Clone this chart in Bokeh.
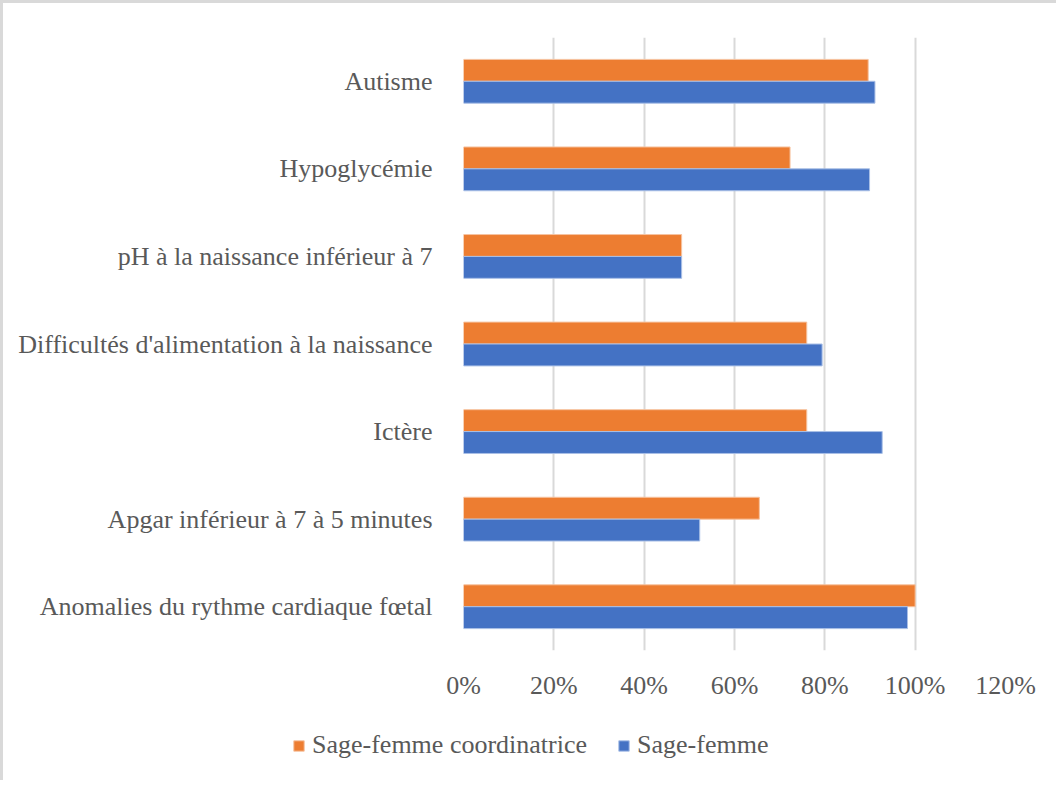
from bokeh.plotting import figure
from bokeh.models import (FactorRange, Range1d, FixedTicker, PrintfTickFormatter,
                          Legend, LegendItem, ColumnDataSource)
from bokeh.transform import dodge
from bokeh.embed import file_html
from bokeh.resources import INLINE

categories = [
    "Anomalies du rythme cardiaque fœtal",
    "Apgar inférieur à 7 à 5 minutes",
    "Ictère",
    "Difficultés d'alimentation à la naissance",
    "pH à la naissance inférieur à 7",
    "Hypoglycémie",
    "Autisme",
]
sage_femme_coordinatrice = [100, 65.5, 76, 76, 48.3, 72.3, 89.6]
sage_femme = [98.3, 52.3, 92.7, 79.4, 48.3, 89.9, 91.1]
x_ticks = [0, 20, 40, 60, 80, 100, 120]
series_names = ["Sage-femme coordinatrice", "Sage-femme"]
ORANGE = "#ED7D31"
BLUE = "#4472C4"
TEXT = "#595959"
FONT = "Liberation Serif"
FONT_SIZE = "26px"
BORDER = "3px solid #d9d9d9"

src = ColumnDataSource(dict(cat=categories, coord=sage_femme_coordinatrice, sf=sage_femme))


def add_bars(fig):
    a = fig.hbar(y=dodge("cat", 0.125, range=fig.y_range), left=0, right="coord", height=0.25,
                 source=src, fill_color=ORANGE, line_color="#f6c3a0", line_width=1)
    b = fig.hbar(y=dodge("cat", -0.125, range=fig.y_range), left=0, right="sf", height=0.25,
                 source=src, fill_color=BLUE, line_color="#a9bfe6", line_width=1)
    return a, b


# main chart
p = figure(
    y_range=FactorRange(*categories),
    x_range=Range1d(0, 120),
    frame_width=542, frame_height=613,
    min_border_left=460, min_border_right=51,
    min_border_top=34, min_border_bottom=60,
    output_backend="svg", toolbar_location=None,
)
p.styles = {"border-top": BORDER, "border-left": BORDER}
p.outline_line_color = None
add_bars(p)

p.xgrid.ticker = FixedTicker(ticks=x_ticks)
p.xgrid.grid_line_color = "#d9d9d9"
p.xgrid.grid_line_width = 2
p.ygrid.grid_line_color = None

p.xaxis.ticker = FixedTicker(ticks=x_ticks)
p.xaxis.formatter = PrintfTickFormatter(format="%d%%")
for ax in (p.xaxis[0], p.yaxis[0]):
    ax.axis_line_color = None
    ax.major_tick_line_color = None
    ax.minor_tick_line_color = None
    ax.major_label_text_font = FONT
    ax.major_label_text_font_size = FONT_SIZE
    ax.major_label_text_color = TEXT
p.xaxis.major_label_standoff = 14
p.yaxis.major_label_standoff = 25

# legend strip: a separate root so its frame spans the full width
# (its bars lie outside its visible x range; only the legend shows)
lg = figure(
    y_range=FactorRange(*categories),
    x_range=Range1d(-2, -1),
    width=1053, height=70, min_border=0,
    x_axis_location=None, y_axis_location=None,
    output_backend="svg", toolbar_location=None,
)
lg.styles = {"border-left": BORDER}
lg.outline_line_color = None
lg.grid.visible = False
l1, l2 = add_bars(lg)

legend = Legend(
    items=[LegendItem(label=series_names[0], renderers=[l1]),
           LegendItem(label=series_names[1], renderers=[l2])],
    location=(289, 20), orientation="horizontal",
    padding=0, margin=0, spacing=30,
    glyph_width=13, glyph_height=13, label_standoff=7,
    label_text_font=FONT, label_text_font_size=FONT_SIZE, label_text_color=TEXT,
    border_line_color=None, background_fill_alpha=0,
)
lg.add_layout(legend, "center")

open("out.html", "w").write(file_html([p, lg], INLINE))
